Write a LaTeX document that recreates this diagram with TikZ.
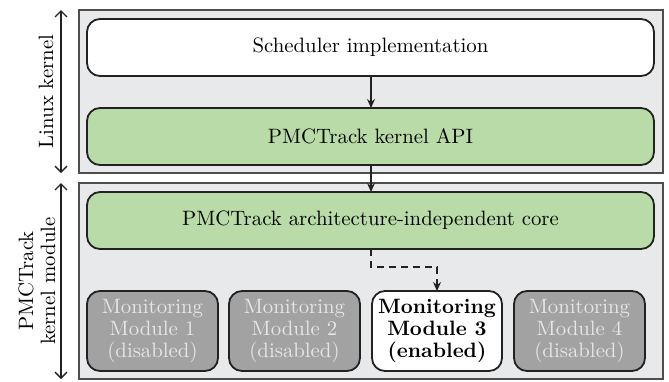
\documentclass[tikz,border=0pt]{standalone}
\usepackage{fontspec}
\usetikzlibrary{arrows.meta}
\definecolor{outerfill}{HTML}{E8E9EB}
\definecolor{greenfill}{HTML}{B9DBA8}
\definecolor{modfill}{HTML}{A2A2A2}
\definecolor{modtext}{HTML}{E6E6E6}
\definecolor{edge}{HTML}{222222}
\tikzset{
  layerbox/.style={draw=edge!80, fill=outerfill, line width=0.75pt},
  whitebox/.style={draw=edge, fill=white, rounded corners=6.5pt, line width=0.9pt},
  greenbox/.style={draw=edge, fill=greenfill, rounded corners=6.5pt, line width=0.9pt},
  modbox/.style={draw=edge, fill=modfill, rounded corners=6.5pt, line width=0.9pt},
  enbox/.style={draw=edge, fill=white, rounded corners=6.5pt, line width=0.9pt},
  txt/.style={font=\fontsize{10.4}{11}\selectfont},
  flow/.style={draw=edge, line width=0.65pt, -{Stealth[length=4.5pt,width=4pt]}},
  span/.style={draw=edge, line width=0.65pt, {Straight Barb[length=3pt,width=6pt]}-{Straight Barb[length=3pt,width=6pt]}}
}
\begin{document}
\begin{tikzpicture}[x=0.5pt,y=-0.5pt,every node/.style={txt}]
\useasboundingbox (0,0) rectangle (669,381);
% layers
\draw[layerbox] (79,10) rectangle (663,173);
\draw[layerbox] (79,183) rectangle (663,379);
% boxes
\draw[whitebox] (87,19) rectangle (654,76);
\node (sched) at (370.5,47.5) {Scheduler implementation};
\draw[greenbox] (87,108) rectangle (654,165);
\node (api) at (370.5,136.5) {PMCTrack kernel API};
\draw[greenbox] (87,192) rectangle (654,249);
\node (core) at (370.5,220.5) {PMCTrack architecture-independent core};
% named anchors for connectors
\coordinate (schedB) at (371,76);
\coordinate (apiT) at (371,108);
\coordinate (apiB) at (371,165);
\coordinate (coreT) at (371,192);
\coordinate (coreB) at (371,249);
% modules
\draw[modbox] (87,291) rectangle (218,371);
\node[text=modtext,align=center] (m1) at (152.5,331) {Monitoring\\Module 1\\(disabled)};
\draw[modbox] (229,291) rectangle (360,371);
\node[text=modtext,align=center] (m2) at (294.5,331) {Monitoring\\Module 2\\(disabled)};
\draw[enbox] (372,291) rectangle (502,371);
\node[align=center,font=\fontsize{10.4}{11}\selectfont\bfseries] (m3) at (437,331) {Monitoring\\Module 3\\(enabled)};
\draw[modbox] (514,291) rectangle (645,371);
\node[text=modtext,align=center] (m4) at (579.5,331) {Monitoring\\Module 4\\(disabled)};
\coordinate (m3T) at (437,291);
% connectors
\draw[flow] (schedB) -- (apiT);
\draw[flow] (apiB) -- (coreT);
\draw[flow, dashed, dash pattern=on 3.5pt off 2.5pt] (coreB) |- (437,267) -- (m3T);
% side spans
\coordinate (s1t) at (61,10);
\coordinate (s1b) at (61,173);
\coordinate (s2t) at (61,183);
\coordinate (s2b) at (61,379);
\draw[span] (s1t) -- (s1b);
\draw[span] (s2t) -- (s2b);
\node[rotate=90] (lk) at (46,91.5) {Linux kernel};
\node[rotate=90,align=center] (pk) at (37,281) {PMCTrack\\kernel module};
\end{tikzpicture}
\end{document}
